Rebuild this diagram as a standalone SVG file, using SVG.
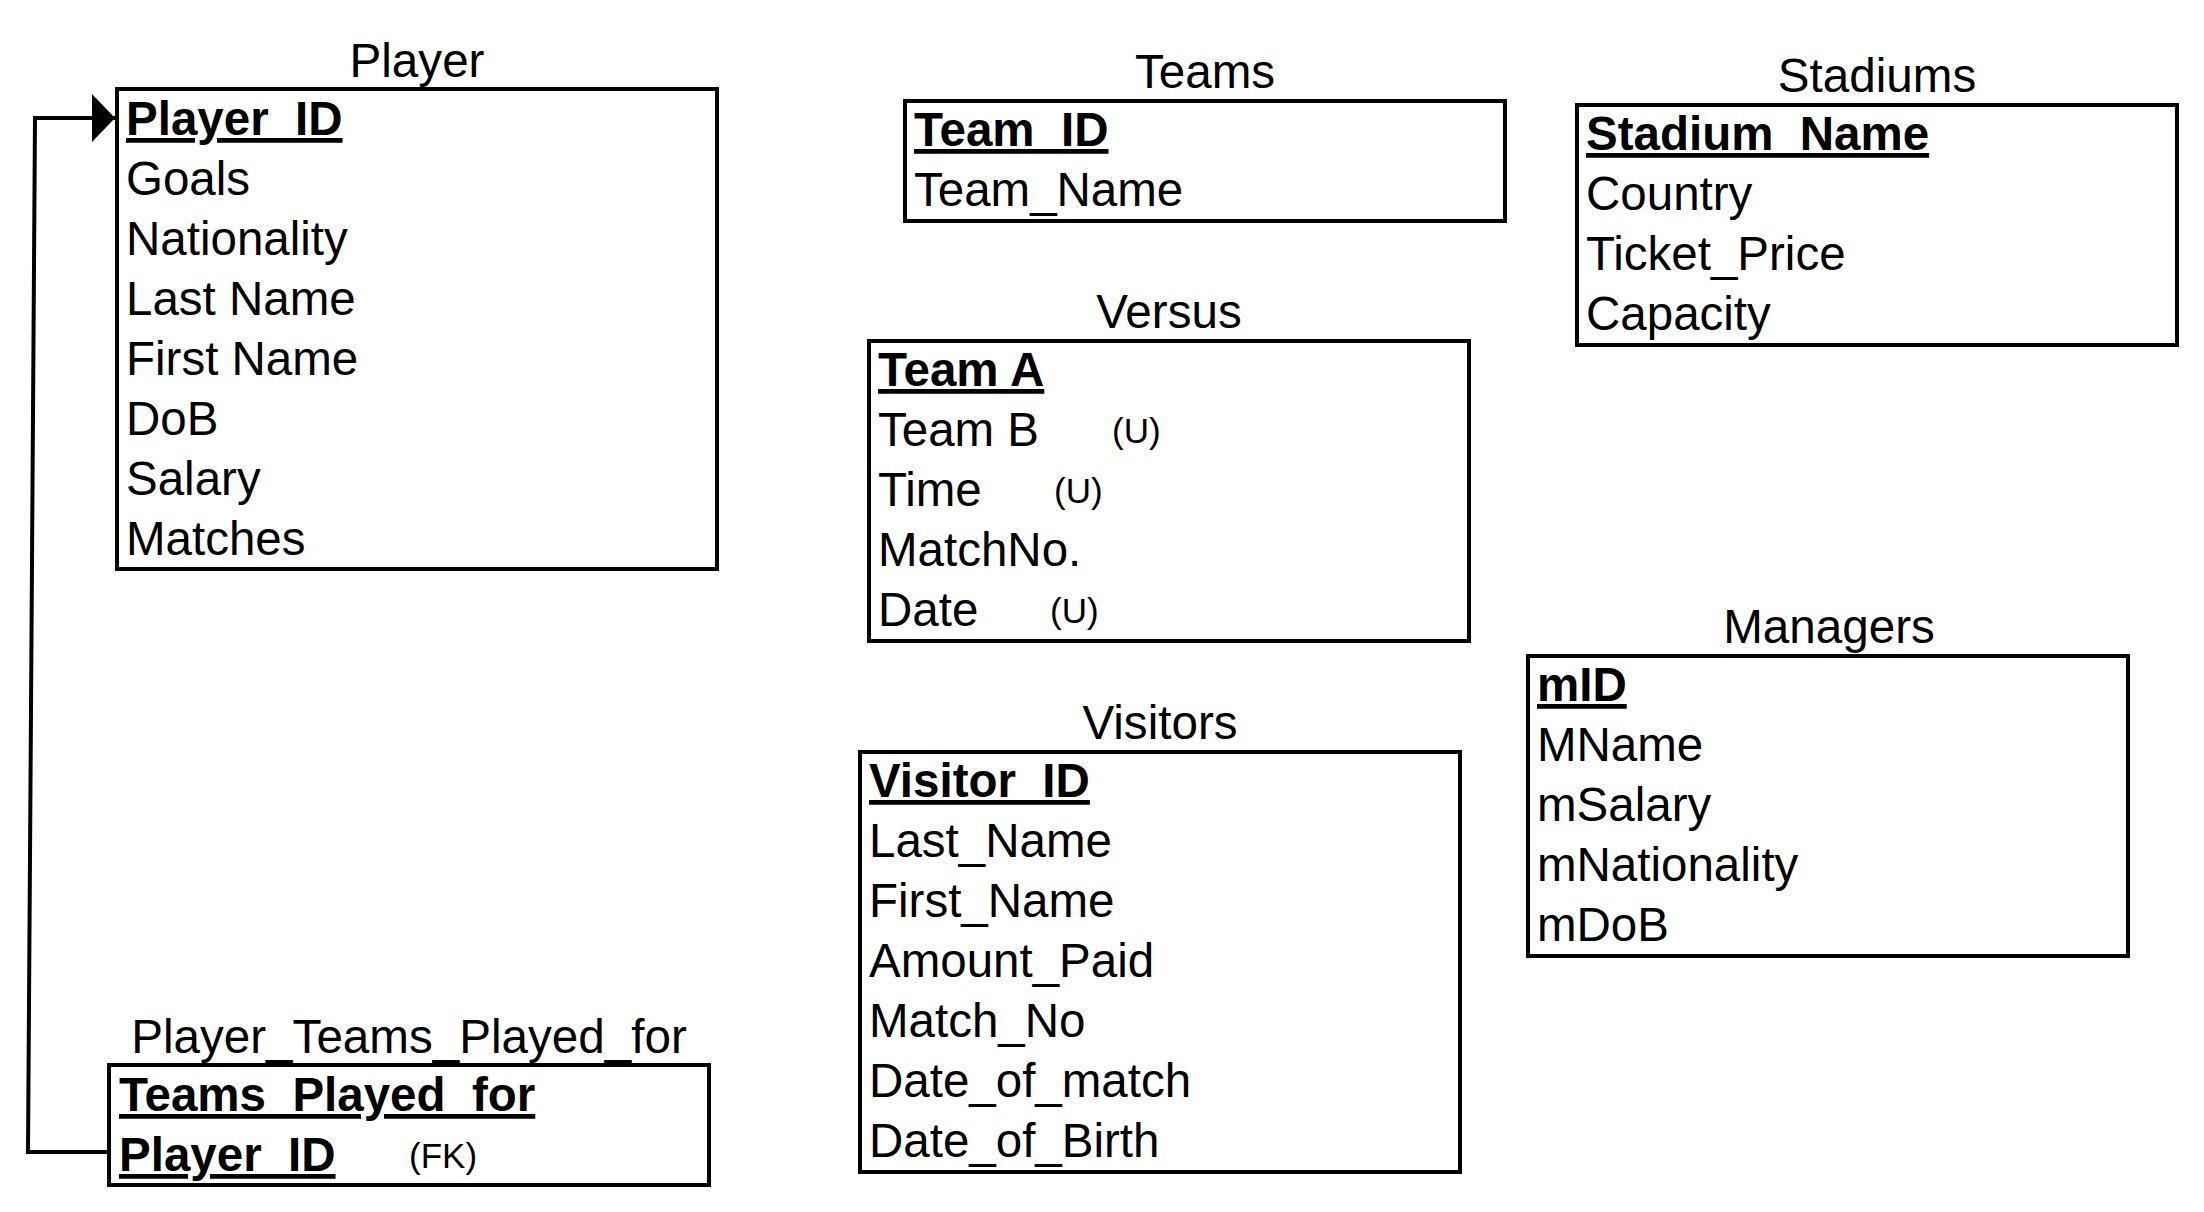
<svg xmlns="http://www.w3.org/2000/svg" width="2204" height="1212" viewBox="0 0 2204 1212">
<style>
  .box { fill: #ffffff; stroke: #000000; stroke-width: 4; }
  text { font-family: "Liberation Sans", Arial, sans-serif; fill: #000000; }
  .title { font-size: 47.6px; text-anchor: middle; }
  .attr { font-size: 47.5px; }
  .key { font-size: 47.5px; font-weight: bold; text-decoration: underline; }
  .note { font-size: 35px; }
  .conn { fill: none; stroke: #000000; stroke-width: 4; }
</style>
<defs>
  <marker id="arrow" markerUnits="userSpaceOnUse" markerWidth="26" markerHeight="50" refX="23" refY="24" orient="auto">
    <polygon points="0,0 23,24 0,48" fill="#000000"/>
  </marker>
</defs>
<rect width="2204" height="1212" fill="#ffffff"/>

<g id="player">
  <text class="title" x="417" y="77">Player</text>
  <rect class="box" x="117" y="89" width="600" height="480"/>
  <text class="key" x="126" y="135">Player_ID</text>
  <text class="attr" x="126" y="195">Goals</text>
  <text class="attr" x="126" y="255">Nationality</text>
  <text class="attr" x="126" y="315">Last Name</text>
  <text class="attr" x="126" y="375">First Name</text>
  <text class="attr" x="126" y="435">DoB</text>
  <text class="attr" x="126" y="495">Salary</text>
  <text class="attr" x="126" y="555">Matches</text>
</g>

<g id="player_teams_played_for">
  <text class="title" x="409" y="1053">Player_Teams_Played_for</text>
  <rect class="box" x="109" y="1065" width="600" height="120"/>
  <text class="key" x="119" y="1111">Teams_Played_for</text>
  <text class="key" x="119" y="1171">Player_ID</text>
  <text class="note" x="409" y="1168">(FK)</text>
</g>

<g id="teams">
  <text class="title" x="1205" y="88">Teams</text>
  <rect class="box" x="905" y="101" width="600" height="120"/>
  <text class="key" x="914" y="146">Team_ID</text>
  <text class="attr" x="914" y="206">Team_Name</text>
</g>

<g id="stadiums">
  <text class="title" x="1877" y="92">Stadiums</text>
  <rect class="box" x="1577" y="105" width="600" height="240"/>
  <text class="key" x="1586" y="150">Stadium_Name</text>
  <text class="attr" x="1586" y="210">Country</text>
  <text class="attr" x="1586" y="270">Ticket_Price</text>
  <text class="attr" x="1586" y="330">Capacity</text>
</g>

<g id="versus">
  <text class="title" x="1169" y="328">Versus</text>
  <rect class="box" x="869" y="341" width="600" height="300"/>
  <text class="key" x="878" y="386">Team A</text>
  <text class="attr" x="878" y="446">Team B</text>
  <text class="note" x="1112" y="443">(U)</text>
  <text class="attr" x="878" y="506">Time</text>
  <text class="note" x="1054" y="503">(U)</text>
  <text class="attr" x="878" y="566">MatchNo.</text>
  <text class="attr" x="878" y="626">Date</text>
  <text class="note" x="1050" y="623">(U)</text>
</g>

<g id="visitors">
  <text class="title" x="1160" y="739">Visitors</text>
  <rect class="box" x="860" y="752" width="600" height="420"/>
  <text class="key" x="869" y="797">Visitor_ID</text>
  <text class="attr" x="869" y="857">Last_Name</text>
  <text class="attr" x="869" y="917">First_Name</text>
  <text class="attr" x="869" y="977">Amount_Paid</text>
  <text class="attr" x="869" y="1037">Match_No</text>
  <text class="attr" x="869" y="1097">Date_of_match</text>
  <text class="attr" x="869" y="1157">Date_of_Birth</text>
</g>

<g id="managers">
  <text class="title" x="1829" y="643">Managers</text>
  <rect class="box" x="1528" y="656" width="600" height="300"/>
  <text class="key" x="1537" y="701">mID</text>
  <text class="attr" x="1537" y="761">MName</text>
  <text class="attr" x="1537" y="821">mSalary</text>
  <text class="attr" x="1537" y="881">mNationality</text>
  <text class="attr" x="1537" y="941">mDoB</text>
</g>

<g id="connectors">
  <path class="conn" d="M 109 1152 H 28 L 35 118 H 115" marker-end="url(#arrow)"/>
</g>
</svg>
